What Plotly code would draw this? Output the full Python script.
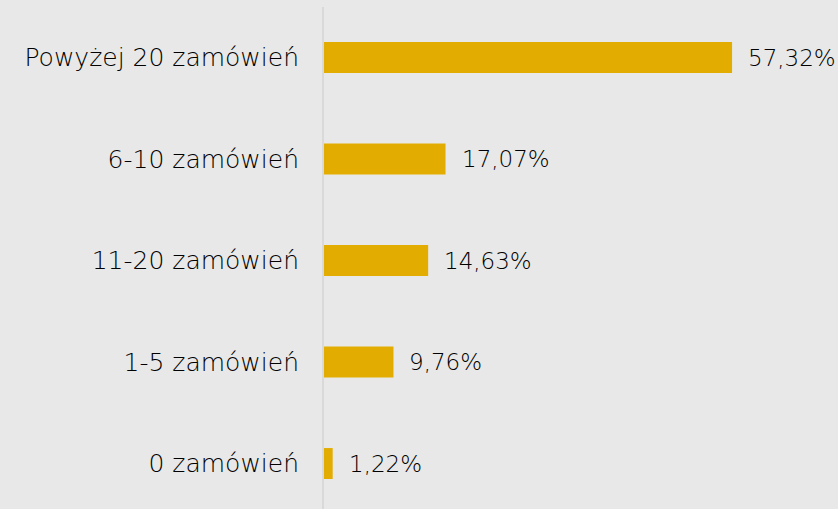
import plotly.graph_objects as go

categories = ["0 zamówień", "1-5 zamówień", "11-20 zamówień", "6-10 zamówień", "Powyżej 20 zamówień"]
values = [1.22, 9.76, 14.63, 17.07, 57.32]
value_labels = ["1,22%", "9,76%", "14,63%", "17,07%", "57,32%"]

BG = "#e8e8e8"
BAR = "#e2ad00"
TXT = "#000000"
FONT = "'DejaVu Sans', sans-serif"

fig = go.Figure()
fig.add_trace(go.Bar(
    x=values, y=categories, orientation="h",
    marker=dict(color=BAR, line=dict(width=0)),
    width=0.305, hoverinfo="skip",
))

for c, v, t in zip(categories, values, value_labels):
    fig.add_annotation(x=v, y=c, text=t, showarrow=False, xanchor="left",
                       xshift=14, font=dict(family=FONT, size=23, color=TXT, weight=300))

fig.update_layout(
    width=838, height=509,
    margin=dict(l=324, r=0, t=7, b=0),
    paper_bgcolor=BG, plot_bgcolor=BG,
    showlegend=False,
    xaxis=dict(range=[0, 72.2], visible=False, fixedrange=True),
    yaxis=dict(
        categoryorder="array", categoryarray=categories,
        range=[-0.448, 4.4975],
        showline=True, linecolor="#d9d9d9", linewidth=2,
        showgrid=False, zeroline=False, ticks="",
        ticklabelstandoff=18,
        tickfont=dict(family=FONT, size=25, color=TXT, weight=300),
        fixedrange=True,
    ),
)

fig.write_html(
    "out.html",
    config={"displayModeBar": False},
    post_script="document.body.style.margin='0';document.body.style.background='#e8e8e8';",
)
